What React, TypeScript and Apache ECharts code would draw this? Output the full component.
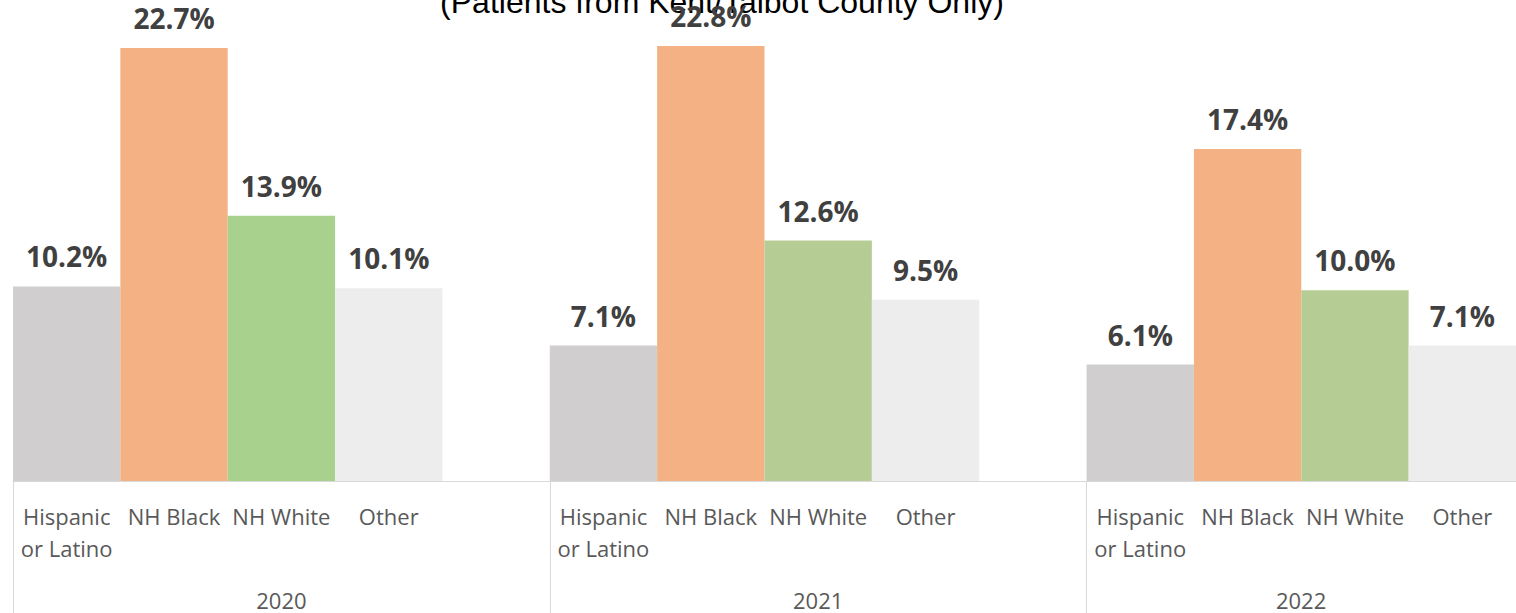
import React, { useEffect, useRef } from "react";
import * as echarts from "echarts";

const years = ["2020", "2021", "2022"];
const races = ["Hispanic\nor Latino", "NH Black", "NH White", "Other"];
const hispanic = [10.2, 7.1, 6.1];
const nhBlack = [22.7, 22.8, 17.4];
const nhWhite = [13.9, 12.6, 10.0];
const other = [10.1, 9.5, 7.1];
const titleText = "(Patients from Kent/Talbot County Only)";

const raceColors = ["#D0CECE", "#F4B183", "#B5CC95", "#EDEDED"];
const white2020Color = "#A9D18E";

export default function App() {
  const ref = useRef<HTMLDivElement>(null);
  useEffect(() => {
    if (!ref.current) return;
    const chart = echarts.init(ref.current, null, { renderer: "svg" });
    const seriesValues = [hispanic, nhBlack, nhWhite, other];
    const cats: string[] = [];
    const yearCats: any[] = [];
    const data: any[] = [];
    years.forEach((y, yi) => {
      races.forEach((r, ri) => {
        cats.push(r);
        let color = raceColors[ri];
        if (ri === 2 && yi === 0) color = white2020Color;
        data.push({ value: seriesValues[ri][yi], itemStyle: { color } });
        yearCats.push("");
      });
      if (yi < years.length - 1) {
        cats.push("");
        data.push("-");
        yearCats.push("");
      }
    });
    // year labels: centred on the visible width of each group
    yearCats[2] = years[0];
    yearCats[7] = years[1];
    yearCats[11] = { value: years[2], textStyle: { padding: [0, 0, 0, 107] } };

    chart.setOption({
      animation: false,
      title: {
        text: titleText,
        left: 717,
        textAlign: "center",
        top: -19,
        z: 0,
        textStyle: {
          fontFamily: "Liberation Sans",
          fontSize: 32,
          fontWeight: "normal",
          color: "#000000",
        },
      },
      grid: { left: 13, top: 4, right: 0, height: 477, containLabel: false },
      xAxis: [
        {
          type: "category",
          data: cats,
          position: "bottom",
          axisLine: { show: true, lineStyle: { color: "#D9D9D9", width: 1 } },
          axisTick: { show: false },
          axisLabel: {
            interval: 0,
            margin: 19,
            fontFamily: "Open Sans",
            fontSize: 22,
            lineHeight: 32,
            color: "#595959",
            align: "center",
          },
        },
        {
          type: "category",
          data: yearCats,
          position: "bottom",
          axisLine: { show: false },
          axisTick: {
            show: true,
            length: 132,
            interval: (i: number) => i % 5 === 0,
            lineStyle: { color: "#D9D9D9", width: 1 },
          },
          axisLabel: {
            interval: 0,
            margin: 108,
            fontFamily: "Open Sans",
            fontSize: 22,
            color: "#595959",
          },
        },
      ],
      yAxis: {
        type: "value",
        min: 0,
        max: 25,
        show: false,
        splitLine: { show: false },
      },
      series: [
        {
          type: "bar",
          data,
          barCategoryGap: 0,
          barWidth: "100%",
          z: 5,
          label: {
            show: true,
            position: "top",
            distance: 16,
            fontFamily: "Open Sans",
            fontWeight: "bold",
            fontSize: 28,
            color: "#404040",
            formatter: (p: any) => Number(p.value).toFixed(1) + "%",
          },
        },
      ],
    });
    return () => chart.dispose();
  }, []);
  return (
    <div
      ref={ref}
      style={{ position: "fixed", left: 0, top: 0, width: 1516, height: 613, background: "#fff" }}
    />
  );
}
